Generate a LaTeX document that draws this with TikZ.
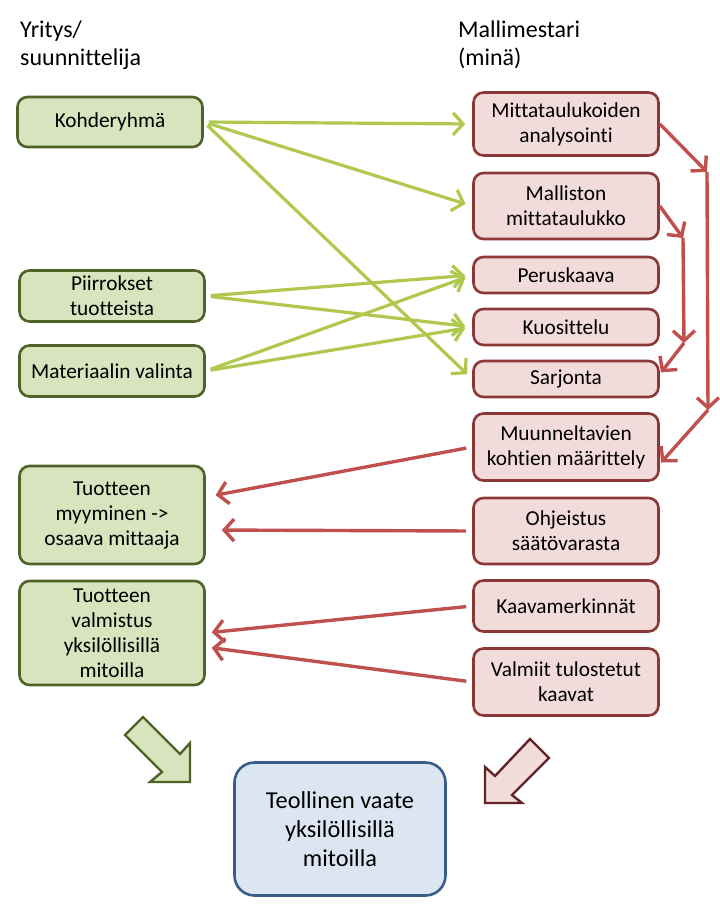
\documentclass[tikz,border=0pt]{standalone}
\usepackage{fontspec}
\setmainfont{Carlito}[Ligatures=NoCommon]
\usetikzlibrary{arrows.meta, positioning}

\definecolor{gfill}{RGB}{215,228,189}
\definecolor{gline}{RGB}{79,98,40}
\definecolor{garr}{RGB}{176,200,78}
\definecolor{rfill}{RGB}{242,220,219}
\definecolor{rline}{RGB}{140,56,54}
\definecolor{rarr}{RGB}{192,80,77}
\definecolor{rdark}{RGB}{99,37,35}
\definecolor{bfill}{RGB}{220,230,242}
\definecolor{bline}{RGB}{56,93,138}

\tikzset{
  box/.style={draw, rounded corners=10pt, line width=2.6pt, align=center,
              minimum width=185pt, inner sep=2pt, font=\fontsize{21.3}{25}\selectfont},
  gbox/.style={box, fill=gfill, draw=gline},
  rbox/.style={box, fill=rfill, draw=rline},
  head/.style={align=left, inner sep=0pt, anchor=north west, font=\fontsize{24}{28}\selectfont},
  garrow/.style={draw=garr, line width=3.2pt, -{Straight Barb[length=10pt,width=22pt]},
                 shorten <=5pt, shorten >=7pt},
  rarrow/.style={draw=rarr, line width=3.4pt, -{Straight Barb[length=10pt,width=22pt]}},
  gblock/.style={fill=gfill, draw=gline, line width=2.4pt, line join=miter},
  rblock/.style={fill=rfill, draw=rdark, line width=2.4pt, line join=miter},
}

\begin{document}
\begin{tikzpicture}[x=1pt, y=-1pt]
\useasboundingbox (0, 0) rectangle (720, 916);
        % Headings
        \node[head] at (20, 21)     (yritys)   {Yritys/\\suunnittelija};
        \node[head] at (458, 21)    (mestari)  {Mallimestari\\(minä)};
        % Left column
        \node[gbox, minimum height=50pt] at (110, 122)    (kohde)    {Kohderyhmä};
        \node[gbox, minimum height=51pt] at (112, 296)    (piirr)    {Piirrokset\\tuotteista};
        \node[gbox, minimum height=51pt] at (112, 371)    (mater)    {Materiaalin valinta};
        \node[gbox, minimum height=98pt] at (112, 515)    (myynti)   {Tuotteen\\myyminen ->\\osaava mittaaja};
        \node[gbox, minimum height=104pt] at (112, 633)   (valmis)   {Tuotteen\\valmistus\\yksilöllisillä\\mitoilla};
        % Right column
        \node[rbox, minimum height=63pt] at (566, 124)    (mitta)    {Mittataulukoiden\\analysointi};
        \node[rbox, minimum height=66pt] at (566, 206)    (mallisto) {Malliston\\mittataulukko};
        \node[rbox, minimum height=36pt] at (566, 275)    (perus)    {Peruskaava};
        \node[rbox, minimum height=36pt] at (566, 327)    (kuosi)    {Kuosittelu};
        \node[rbox, minimum height=36pt] at (566, 379)    (sarj)     {Sarjonta};
        \node[rbox, minimum height=67pt] at (566, 447)    (muunn)    {Muunneltavien\\kohtien määrittely};
        \node[rbox, minimum height=66pt] at (566, 531)    (ohje)     {Ohjeistus\\säätövarasta};
        \node[rbox, minimum height=51pt] at (566, 606)    (kaava)    {Kaavamerkinnät};
        \node[rbox, minimum height=67pt] at (566, 682)    (valmiit)  {Valmiit tulostetut\\kaavat};
        % Result
        \node[box, fill=bfill, draw=bline, minimum width=211pt, minimum height=133pt,
              rounded corners=20pt, font=\fontsize{24.3}{29}\selectfont]
              at (340, 829)   (vaate)    {Teollinen vaate\\yksilöllisillä\\mitoilla};

        \coordinate (o1) at (707, 172);
        \coordinate (o2) at (708, 410);
        \coordinate (i1) at (683, 238);
        \coordinate (i2) at (684, 343);

        % Green connectors
\draw[garrow]  (kohde.east) -- (mitta.west);
\draw[garrow]  (kohde.east) -- (mallisto.west);
\draw[garrow]  (kohde.east) -- (sarj.west);
\draw[garrow]  (piirr.east) -- (perus.west);
\draw[garrow]  (piirr.east) -- (kuosi.west);
\draw[garrow]  (mater.east) -- (perus.west);
\draw[garrow]  (mater.east) -- (kuosi.west);

        % Red connectors
\draw[rarrow]  (mitta.east) -- (o1);
\draw[rarrow]  (o1) -- (o2);
\draw[rarrow, shorten >=2pt]  (o2) -- ([yshift=-17pt]muunn.east);
\draw[rarrow]  (mallisto.east) -- (i1);
\draw[rarrow]  (i1) -- (i2);
\draw[rarrow, shorten >=2pt]  (i2) -- ([yshift=5pt]sarj.east);

\draw[rarrow, shorten <=6pt, shorten >=10pt]  (muunn.west) -- ([yshift=18pt]myynti.east);
\draw[rarrow, shorten <=6pt, shorten >=16pt]  (ohje.west) -- ([yshift=-15pt]myynti.east);
\draw[rarrow, shorten <=6pt, shorten >=6pt]  (kaava.west) -- (valmis.east);
\draw[rarrow, shorten <=6pt, shorten >=6pt]  (valmiit.west) -- ([yshift=-14pt]valmis.east);

        % Block arrows
\draw[gblock] (143, 717) -- (125, 735) -- (162, 772) -- (150, 782) -- (190, 782)
              -- (190, 743) -- (180, 754) -- cycle;
\draw[rblock] (530, 739) -- (549, 758) -- (512, 795) -- (522, 803) -- (485, 803)
              -- (485, 767) -- (495, 776) -- cycle;
\end{tikzpicture}
\end{document}
